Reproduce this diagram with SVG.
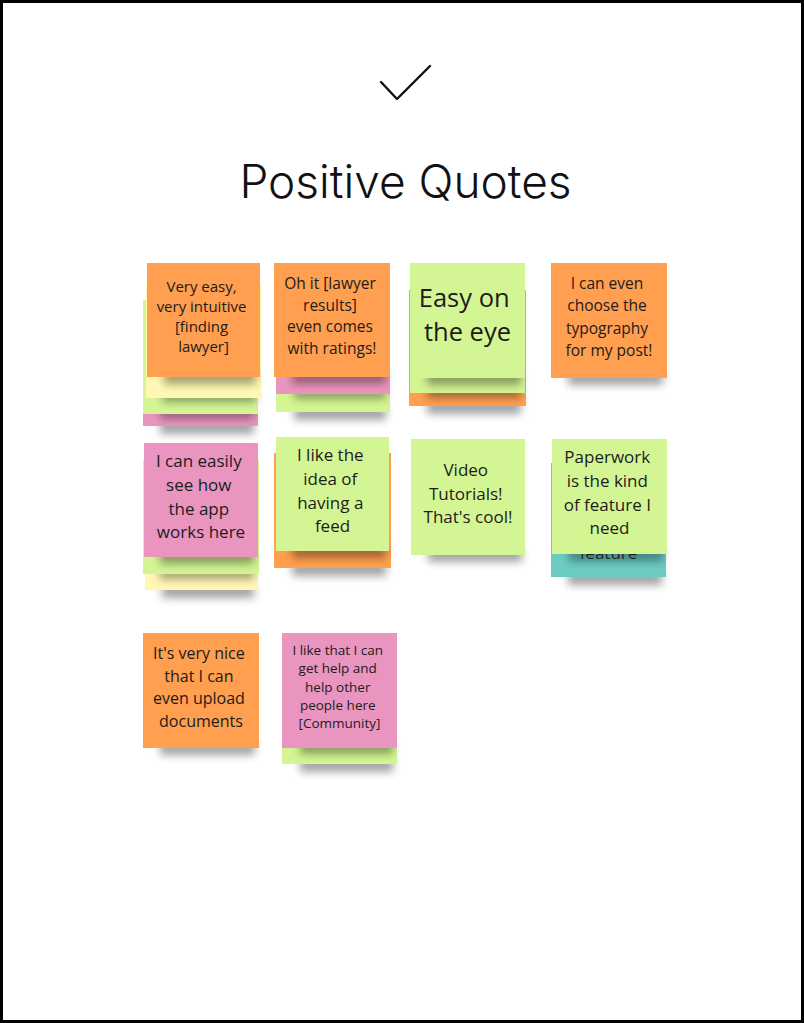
<svg xmlns="http://www.w3.org/2000/svg" width="804" height="1023" viewBox="0 0 804 1023">
  <defs>
    <filter id="soft" x="-30%" y="-200%" width="160%" height="500%">
      <feGaussianBlur stdDeviation="4.5"/>
    </filter>
    <style>
      .orange { fill: #ff9f4f; }
      .green  { fill: #d4f593; }
      .pink   { fill: #ea95bf; }
      .yellow { fill: #fff7b3; }
      .teal   { fill: #6ccbc2; }
      .shadow { fill: #000; opacity: 0.36; filter: url(#soft); }
      .note-text { font-family: "Open Sans", "DejaVu Sans", sans-serif; fill: #1c1c1c; text-anchor: middle; }
      .title { font-family: Inter, "Liberation Sans", sans-serif; font-weight: 300; font-size: 46px; fill: #111; text-anchor: middle; }
    </style>
  </defs>

  <!-- page frame -->
  <rect x="1.5" y="1.5" width="801" height="1020" fill="#fff" stroke="#000" stroke-width="3"/>

  <!-- header -->
  <g id="header">
    <polyline points="381,82 397,99 430,66" fill="none" stroke="#111" stroke-width="2.4" stroke-linecap="round" stroke-linejoin="round"/>
    <text class="title" x="405.5" y="198">Positive Quotes</text>
  </g>

  <g id="connectors"/>

  <!-- row 1 -->
  <g id="note-very-easy">
    <rect class="shadow" x="160" y="420" width="94" height="14"/>
    <rect class="pink" x="143" y="330" width="115" height="96"/>
    <rect class="shadow" x="160" y="408" width="94" height="11"/>
    <rect class="green" x="143" y="300" width="115" height="114"/>
    <rect class="shadow" x="162" y="391" width="94" height="11"/>
    <rect class="yellow" x="146" y="283" width="115" height="115"/>
    <rect class="shadow" x="164" y="370" width="92" height="14"/>
    <rect class="orange" x="147" y="263" width="113" height="114"/>
    <text class="note-text" font-size="15" x="203.5">
      <tspan x="203.5" y="292">Very easy,</tspan>
      <tspan x="203.5" y="312">very intuitive</tspan>
      <tspan x="203.5" y="332">[finding</tspan>
      <tspan x="203.5" y="352">lawyer]</tspan>
    </text>
  </g>

  <g id="note-ratings">
    <rect class="shadow" x="294" y="406" width="92" height="14"/>
    <rect class="green" x="276" y="300" width="114" height="112"/>
    <rect class="shadow" x="294" y="388" width="92" height="11"/>
    <rect class="pink" x="276" y="285" width="114" height="109"/>
    <rect class="shadow" x="292" y="370" width="94" height="14"/>
    <rect class="orange" x="274" y="263" width="116" height="114"/>
    <text class="note-text" font-size="15.5" x="332">
      <tspan x="332" y="289">Oh it [lawyer</tspan>
      <tspan x="332" y="310.5">results]</tspan>
      <tspan x="332" y="332">even comes</tspan>
      <tspan x="332" y="353.5">with ratings!</tspan>
    </text>
  </g>

  <g id="note-easy-eye">
    <rect class="shadow" x="427" y="400" width="94" height="14"/>
    <rect class="orange" x="409" y="290" width="117" height="116"/>
    <rect class="shadow" x="427" y="387" width="94" height="11"/>
    <rect class="green" x="410" y="280" width="115" height="113"/>
    <rect class="shadow" x="427" y="371" width="94" height="14"/>
    <rect class="green" x="410" y="263" width="115" height="115"/>
    <text class="note-text" font-size="25.5" x="467.5">
      <tspan x="467.5" y="307">Easy on</tspan>
      <tspan x="467.5" y="341">the eye</tspan>
    </text>
  </g>

  <g id="note-typography">
    <rect class="shadow" x="568" y="371" width="95" height="14"/>
    <rect class="orange" x="551" y="263" width="116" height="115"/>
    <text class="note-text" font-size="15.5" x="609">
      <tspan x="609" y="289">I can even</tspan>
      <tspan x="609" y="311">choose the</tspan>
      <tspan x="609" y="334">typography</tspan>
      <tspan x="609" y="356">for my post!</tspan>
    </text>
  </g>

  <!-- row 2 -->
  <g id="note-see-app">
    <rect class="shadow" x="162" y="584" width="92" height="14"/>
    <rect class="yellow" x="145" y="475" width="113" height="115"/>
    <rect class="shadow" x="160" y="568" width="94" height="11"/>
    <rect class="green" x="143" y="460" width="116" height="114"/>
    <rect class="shadow" x="160" y="550" width="94" height="14"/>
    <rect class="pink" x="144" y="443" width="114" height="114"/>
    <text class="note-text" font-size="17" x="201">
      <tspan x="201" y="467">I can easily</tspan>
      <tspan x="201" y="491">see how</tspan>
      <tspan x="201" y="514.5">the app</tspan>
      <tspan x="201" y="538">works here</tspan>
    </text>
  </g>

  <g id="note-feed">
    <rect class="shadow" x="292" y="562" width="94" height="14"/>
    <rect class="orange" x="274" y="453" width="117" height="115"/>
    <rect class="shadow" x="292" y="544" width="94" height="14"/>
    <rect class="green" x="276" y="437" width="113" height="114"/>
    <text class="note-text" font-size="17" x="332.5">
      <tspan x="332.5" y="461">I like the</tspan>
      <tspan x="332.5" y="485">idea of</tspan>
      <tspan x="332.5" y="508.5">having a</tspan>
      <tspan x="332.5" y="532">feed</tspan>
    </text>
  </g>

  <g id="note-tutorials">
    <rect class="shadow" x="428" y="548" width="94" height="14"/>
    <rect class="green" x="411" y="439" width="114" height="116"/>
    <text class="note-text" font-size="17" x="468">
      <tspan x="468" y="476">Video</tspan>
      <tspan x="468" y="500">Tutorials!</tspan>
      <tspan x="468" y="523">That's cool!</tspan>
    </text>
  </g>

  <g id="note-paperwork">
    <rect class="shadow" x="568" y="571" width="94" height="14"/>
    <rect class="teal" x="551" y="463" width="115" height="114"/>
    <clipPath id="teal-clip">
      <rect x="551" y="554" width="115" height="23"/>
    </clipPath>
    <text class="note-text" font-size="17" x="608.5" y="559" clip-path="url(#teal-clip)" fill-opacity="0.85">feature</text>
    <rect class="shadow" x="569" y="548" width="94" height="13"/>
    <rect class="green" x="552" y="439" width="115" height="115"/>
    <text class="note-text" font-size="17" x="609.5">
      <tspan x="609.5" y="463">Paperwork</tspan>
      <tspan x="609.5" y="487">is the kind</tspan>
      <tspan x="609.5" y="510.5">of feature I</tspan>
      <tspan x="609.5" y="534">need</tspan>
    </text>
  </g>

  <!-- row 3 -->
  <g id="note-upload">
    <rect class="shadow" x="160" y="741" width="95" height="14"/>
    <rect class="orange" x="143" y="633" width="116" height="115"/>
    <text class="note-text" font-size="16" x="201">
      <tspan x="201" y="659">It's very nice</tspan>
      <tspan x="201" y="681.5">that I can</tspan>
      <tspan x="201" y="704">even upload</tspan>
      <tspan x="201" y="726.5">documents</tspan>
    </text>
  </g>

  <g id="note-community">
    <rect class="shadow" x="300" y="758" width="93" height="14"/>
    <rect class="green" x="282" y="650" width="115" height="114"/>
    <rect class="shadow" x="300" y="741" width="93" height="13"/>
    <rect class="pink" x="282" y="633" width="115" height="115"/>
    <text class="note-text" font-size="13.5" x="339.5">
      <tspan x="339.5" y="655">I like that I can</tspan>
      <tspan x="339.5" y="673.3">get help and</tspan>
      <tspan x="339.5" y="691.6">help other</tspan>
      <tspan x="339.5" y="709.9">people here</tspan>
      <tspan x="339.5" y="728.2">[Community]</tspan>
    </text>
  </g>
</svg>
